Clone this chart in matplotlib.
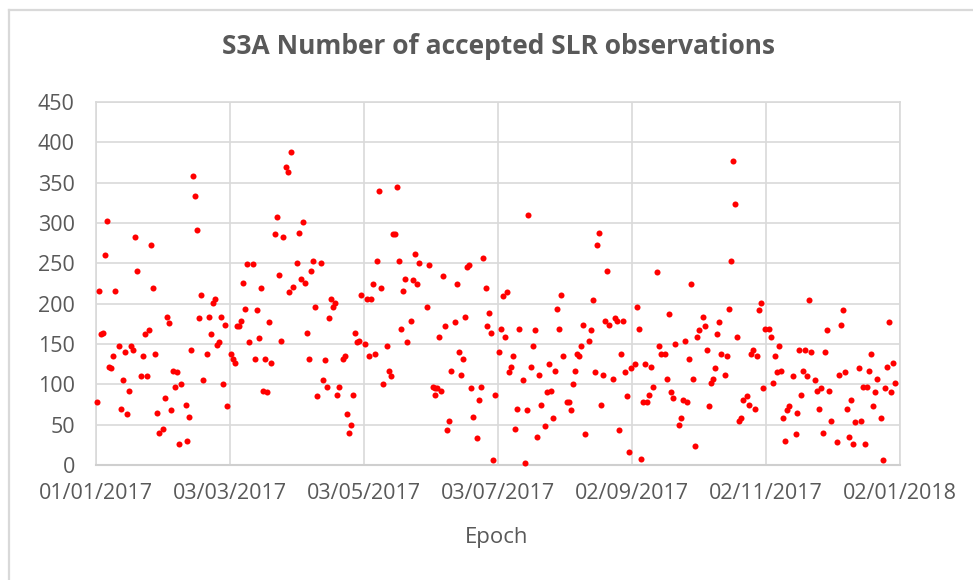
import matplotlib
matplotlib.use("Agg")
import matplotlib.pyplot as plt
from matplotlib.lines import Line2D
import datetime as dt

title = "S3A Number of accepted SLR observations"
x_label = "Epoch"
x_tick_labels = ["01/01/2017", "03/03/2017", "03/05/2017", "03/07/2017",
                 "02/09/2017", "02/11/2017", "02/01/2018"]
y_ticks = [0, 50, 100, 150, 200, 250, 300, 350, 400, 450]

# days since 01/01/2017
day_offset = [
    0.6, 1.5, 2.4, 3.3, 4.2, 5.1, 6.1, 7.0, 7.9, 8.8, 10.6, 11.5, 12.4, 13.3, 14.3,
    15.2, 16.1, 17.0, 17.9, 18.8, 20.6, 21.5, 22.4, 23.4, 24.3, 25.2, 26.1, 27.0,
    27.9, 28.8, 30.6, 31.5, 32.5, 33.4, 34.3, 35.2, 36.1, 37.0, 37.9, 38.8,
    41.1, 41.6, 42.5, 43.4, 44.3, 45.2, 46.1, 47.0, 47.9, 48.8, 50.7, 51.6, 52.5,
    53.4, 54.3, 55.2, 56.1, 57.0, 58.0, 58.9, 59.8, 61.6, 62.5, 63.4, 64.3, 65.2,
    66.1, 67.0, 68.0, 68.9, 69.8, 71.6, 72.5, 73.4, 74.3, 75.2, 76.2, 77.1, 78.0,
    78.9, 79.8, 81.6, 82.5, 83.4, 84.3, 85.3,
    86.6, 87.5, 88.0, 88.9, 89.8, 91.6, 92.5, 93.4, 94.5, 95.3, 96.2, 97.1, 98.0,
    98.9, 99.8, 100.7, 102.5, 103.5, 104.4, 105.3, 106.2, 107.1, 108.0, 108.9,
    109.8, 110.7, 112.6, 113.5, 114.4, 115.3, 116.2, 117.1, 118.0, 118.9, 119.8,
    120.8, 122.6, 123.5, 124.4, 125.3, 126.2, 127.1, 128.0, 128.9, 129.9, 130.8,
    132.6, 133.5, 134.4, 135.3, 136.2, 137.1, 138.1, 139.0, 139.9, 140.8, 141.7,
    143.5, 144.4, 145.3, 146.2, 147.2, 150.8, 151.7, 153.5, 154.4, 154.6, 155.3,
    156.3, 157.2, 158.1, 159.0, 159.9, 160.8, 161.7, 163.5, 164.5, 165.4, 166.3,
    167.2, 168.1, 169.0, 169.9, 170.8, 171.7, 173.5, 174.5, 175.4, 176.3,
    177.7, 178.1, 179.0, 179.9, 180.8, 181.8, 183.6, 184.5, 185.4, 186.3, 187.2,
    188.1, 189.0, 189.9, 190.9, 191.8, 192.7, 194.5, 195.4, 196.3, 196.6, 198.1,
    199.0, 200.0, 200.9, 201.8, 202.7, 204.5, 205.4, 206.3, 207.2, 208.2, 209.1,
    210.0, 210.9, 211.8, 212.7, 214.5, 215.4, 216.3, 217.3, 218.2, 219.1, 220.0,
    220.9, 221.8,
    222.7, 224.5, 225.4, 226.3, 227.3, 228.2, 229.1, 230.0, 230.9, 231.8, 232.7,
    233.6, 235.4, 236.4, 237.3, 238.2, 239.1, 240.0, 240.9, 241.8, 242.7, 243.6,
    245.5, 246.4, 247.3, 248.2, 249.1, 250.0, 250.9, 251.8, 252.7, 253.7, 255.5,
    256.4, 257.3, 259.1, 260.0, 260.9, 261.8, 262.8, 263.7, 265.5, 266.4, 267.3,
    268.2, 269.1, 270.0, 270.9, 271.8, 272.8, 273.7, 274.6, 276.4, 277.3, 278.2,
    279.1, 280.0, 280.9, 281.9, 282.8, 283.7, 284.6, 286.4, 287.3, 288.2, 289.1,
    290.0, 291.0, 291.9, 292.8, 293.7, 294.6, 296.4, 297.3, 298.2, 299.2, 300.1,
    301.0, 301.9, 302.8, 303.7, 304.6, 306.4, 307.3, 308.3, 309.2, 310.1, 311.0,
    311.9, 312.8,
    313.8, 314.7, 315.6, 317.4, 318.6, 319.2, 320.1, 321.0, 321.9, 322.8, 323.8,
    324.7, 325.6, 327.4, 328.3, 329.2, 330.1, 331.0, 332.0, 332.9, 333.8, 334.7,
    337.4, 338.3, 339.2, 340.2, 341.1, 342.0, 342.9, 343.8, 344.7, 345.6, 347.4,
    348.3, 349.3, 350.2, 351.1, 352.0, 352.9, 353.8, 354.7, 355.6, 357.5, 358.4,
    359.3, 360.2, 361.1, 362.0, 362.9, 363.8,
]

n_accepted = [
    78, 216, 162, 164, 260, 303, 122, 120, 135, 216, 147, 70, 105, 140, 63,
    92, 147, 142, 283, 241, 110, 135, 162, 110, 167, 273, 219, 137,
    65, 40, 45, 83, 184, 176, 68, 117, 97, 115, 26, 100,
    75, 30, 60, 142, 358, 333, 291, 182, 211, 105, 137, 184, 162,
    201, 206, 149, 152, 184, 100, 174, 73, 137, 132, 127, 172, 172,
    179, 226, 194, 249, 152, 249, 132, 192, 157, 219, 92, 132, 90,
    177, 127, 286, 308, 236, 154, 283,
    370, 363, 214, 388, 221, 251, 288, 231, 301, 226, 164, 132, 241,
    253, 196, 85, 251, 105, 130, 97, 182, 206, 196, 201,
    87, 97, 132, 135, 63, 40, 50, 87, 164, 152, 154,
    211, 150, 206, 135, 206, 224, 137, 253, 340, 219, 100,
    147, 117, 110, 286, 286, 345, 253, 169, 216, 231, 152,
    179, 229, 261, 224, 251, 196, 248, 97, 95, 87, 95,
    159, 92, 234, 172, 43, 55, 117, 177, 224, 140, 112,
    132, 184, 246, 248, 95, 60, 33, 80, 97, 256,
    219, 172, 189, 164, 6, 87, 140, 169, 209, 159, 214,
    115, 122, 135, 45, 70, 169, 105, 3, 68, 310, 122,
    147, 167, 35, 112, 75, 48, 90, 125, 92, 58, 117,
    194, 169, 211, 135, 78, 78, 68, 100, 117, 137, 135,
    147, 174,
    38, 154, 167, 204, 115, 273, 288, 75, 112, 179, 241,
    174, 107, 182, 179, 43, 137, 179, 115, 85, 16, 120,
    125, 196, 169, 8, 78, 125, 78, 87, 122, 97, 239,
    147, 137, 137, 107, 187, 90, 83, 150, 50, 58, 80,
    154, 78, 132, 224, 107, 23, 159, 167, 184, 172, 142,
    73, 102, 107, 120, 162, 177, 137, 112, 135, 194, 253,
    377, 323, 159, 55, 58, 80, 85, 75, 137, 142, 70,
    135, 192, 201, 95, 169, 169, 159, 102, 135, 115, 147,
    117, 58,
    30, 68, 73, 110, 38, 65, 142, 87, 117, 142, 110,
    204, 140, 105, 92, 70, 95, 40, 140, 167, 92, 55,
    28, 112, 174, 192, 115, 70, 35, 80, 26, 53, 120,
    55, 97, 26, 97, 117, 137, 73, 90, 107, 58, 6,
    95, 122, 177, 90, 127, 102,
]

start = dt.date(2017, 1, 1)
x_ticks = [(dt.datetime.strptime(s, "%d/%m/%Y").date() - start).days for s in x_tick_labels]

TXT = "#595959"
GRID = "#d9d9d9"
FONT = ["Open Sans", "DejaVu Sans"]
plt.rcParams["font.family"] = FONT

W, H = 973, 580
fig = plt.figure(figsize=(W / 100, H / 100), dpi=100)
fig.patch.set_facecolor("white")

L, R, T, B = 95.7, 900, 102, 465
ax = fig.add_axes([L / W, 1 - B / H, (R - L) / W, (B - T) / H])
ax.scatter(day_offset, n_accepted, s=19, c="#ff0000", linewidths=0, zorder=3, clip_on=False)
ax.set_xlim(x_ticks[0], x_ticks[-1])
ax.set_ylim(y_ticks[0], y_ticks[-1])
ax.set_xticks(x_ticks)
ax.set_xticklabels(x_tick_labels)
ax.set_yticks(y_ticks)
ax.grid(True, color=GRID, linewidth=1.2, zorder=0)
ax.set_axisbelow(True)
for s in ax.spines.values():
    s.set_color(GRID)
    s.set_linewidth(1.2)
ax.spines["bottom"].set_color("#cfcfcf")
ax.spines["bottom"].set_linewidth(1.5)
ax.tick_params(axis="both", length=0, labelsize=15.5, colors=TXT)
ax.tick_params(axis="x", pad=13)
ax.tick_params(axis="y", pad=15)

fig.text(498 / W, 1 - 47 / H, title, ha="center", va="center", fontsize=19,
         fontweight="bold", color=TXT)
fig.text(497 / W, 1 - 538 / H, x_label, ha="center", va="center", fontsize=16, color=TXT)

# chart area border (left and top edges visible)
bx, by = 8.5 / W, 1 - 9.5 / H
fig.add_artist(Line2D([bx, bx], [0, by], transform=fig.transFigure, color=GRID, linewidth=1.6))
fig.add_artist(Line2D([bx, 1], [by, by], transform=fig.transFigure, color=GRID, linewidth=1.6))

fig.savefig("out.png", dpi=100)
